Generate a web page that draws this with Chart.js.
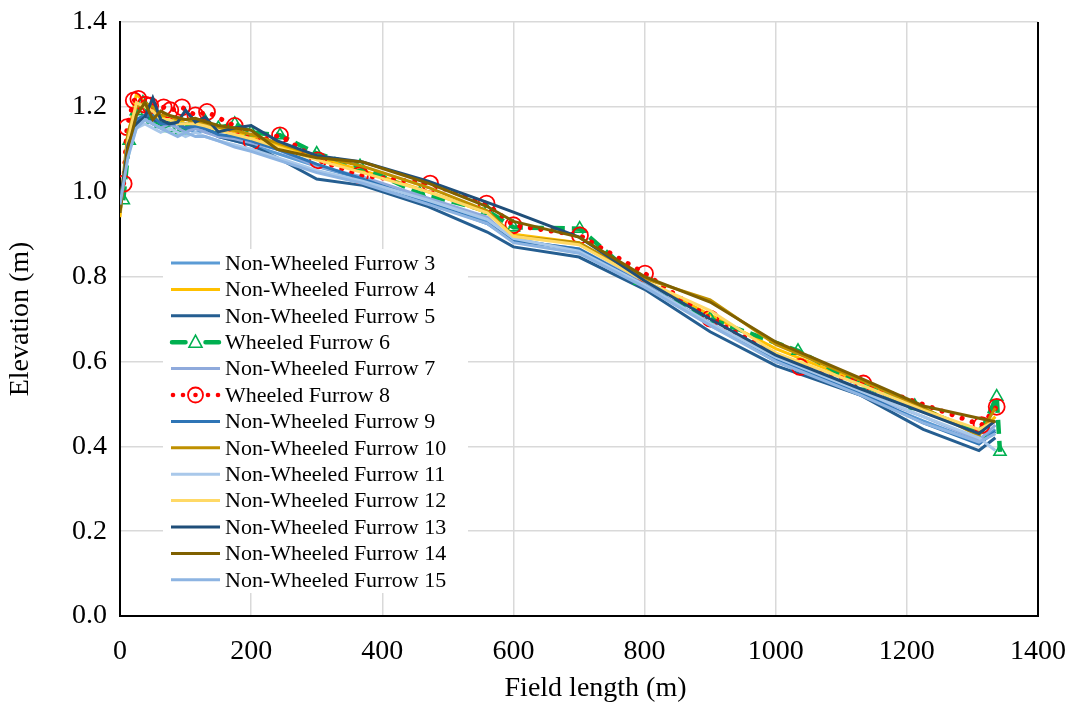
<!DOCTYPE html>
<html>
<head>
<meta charset="utf-8">
<title>Furrow elevation profiles</title>
<script src="https://cdn.jsdelivr.net/npm/chart.js@4.4.1/dist/chart.umd.min.js"></script>
<style>
  html, body { margin: 0; padding: 0; background: #ffffff; }
  #wrap { width: 1073px; height: 709px; }
</style>
</head>
<body>
<div id="wrap"><canvas id="chart" width="1073" height="709"></canvas></div>
<script>
// Survey stations along the field (m)
const stationsNW = [0, 12, 25, 38, 50, 62, 75, 88, 100, 115, 130, 150, 175, 200, 240, 300, 370, 470, 560, 600, 700, 800, 900, 1000, 1130, 1225, 1310, 1335];
const stationsW6 = [5, 14, 25, 35, 50, 62, 76, 94, 110, 130, 150, 175, 200, 244, 300, 366, 457, 560, 600, 701, 793, 900, 1034, 1130, 1212, 1312, 1337, 1342];
const stationsW8 = [5.6, 10.7, 21, 28, 38.6, 46, 66.6, 76.7, 94.5, 115, 132.7, 175, 201, 244, 302, 366, 473, 559, 600, 701.5, 800.7, 900, 1037, 1133.6, 1314, 1337];

// Elevations (m)
const furrow3  = [0.95, 1.10, 1.17, 1.18, 1.16, 1.15, 1.16, 1.15, 1.15, 1.14, 1.145, 1.13, 1.12, 1.11, 1.09, 1.06, 1.03, 0.98, 0.93, 0.89, 0.86, 0.78, 0.69, 0.60, 0.52, 0.46, 0.41, 0.44];
const furrow4  = [0.94, 1.13, 1.23, 1.21, 1.19, 1.18, 1.17, 1.17, 1.16, 1.16, 1.16, 1.15, 1.14, 1.13, 1.11, 1.08, 1.05, 1.00, 0.95, 0.90, 0.88, 0.79, 0.71, 0.63, 0.55, 0.49, 0.43, 0.47];
const furrow5  = [0.96, 1.09, 1.16, 1.18, 1.17, 1.16, 1.17, 1.16, 1.16, 1.15, 1.15, 1.13, 1.12, 1.11, 1.08, 1.03, 1.015, 0.965, 0.905, 0.87, 0.846, 0.77, 0.67, 0.59, 0.52, 0.44, 0.39, 0.42];
const furrow6  = [0.98, 1.12, 1.19, 1.21, 1.17, 1.16, 1.15, 1.145, 1.16, 1.165, 1.15, 1.16, 1.14, 1.133, 1.09, 1.06, 0.996, 0.955, 0.916, 0.913, 0.79, 0.70, 0.625, 0.545, 0.495, 0.43, 0.517, 0.387];
const furrow7  = [0.96, 1.10, 1.16, 1.17, 1.16, 1.15, 1.16, 1.15, 1.14, 1.15, 1.14, 1.13, 1.125, 1.115, 1.10, 1.06, 1.035, 0.985, 0.94, 0.885, 0.865, 0.785, 0.685, 0.605, 0.525, 0.47, 0.415, 0.45];
const furrow8  = [1.019, 1.152, 1.215, 1.219, 1.205, 1.203, 1.199, 1.192, 1.199, 1.18, 1.188, 1.155, 1.117, 1.133, 1.074, 1.039, 1.019, 0.972, 0.921, 0.897, 0.807, 0.701, 0.587, 0.548, 0.45, 0.493];
const furrow9  = [0.95, 1.11, 1.17, 1.18, 1.18, 1.16, 1.16, 1.16, 1.15, 1.155, 1.15, 1.135, 1.13, 1.12, 1.10, 1.065, 1.03, 0.975, 0.925, 0.885, 0.865, 0.78, 0.69, 0.605, 0.525, 0.455, 0.405, 0.435];
const furrow10 = [0.96, 1.14, 1.20, 1.21, 1.20, 1.18, 1.18, 1.17, 1.17, 1.165, 1.16, 1.15, 1.145, 1.135, 1.115, 1.085, 1.06, 1.01, 0.955, 0.895, 0.88, 0.795, 0.745, 0.64, 0.556, 0.49, 0.425, 0.49];
const furrow11 = [0.97, 1.09, 1.15, 1.16, 1.15, 1.14, 1.15, 1.14, 1.13, 1.14, 1.13, 1.12, 1.11, 1.10, 1.08, 1.05, 1.025, 0.98, 0.935, 0.89, 0.86, 0.78, 0.69, 0.61, 0.53, 0.47, 0.42, 0.39];
const furrow12 = [0.95, 1.12, 1.21, 1.20, 1.19, 1.17, 1.17, 1.16, 1.16, 1.16, 1.155, 1.145, 1.135, 1.125, 1.105, 1.075, 1.045, 1.00, 0.95, 0.895, 0.875, 0.79, 0.72, 0.62, 0.545, 0.485, 0.44, 0.46];
const furrow13 = [0.97, 1.11, 1.16, 1.176, 1.221, 1.17, 1.16, 1.164, 1.192, 1.164, 1.176, 1.141, 1.15, 1.156, 1.12, 1.085, 1.07, 1.025, 0.975, 0.952, 0.893, 0.79, 0.70, 0.615, 0.535, 0.48, 0.43, 0.46];
const furrow14 = [0.95, 1.10, 1.18, 1.21, 1.17, 1.19, 1.18, 1.175, 1.17, 1.173, 1.165, 1.156, 1.15, 1.145, 1.10, 1.08, 1.07, 1.02, 0.965, 0.93, 0.893, 0.80, 0.74, 0.646, 0.56, 0.495, 0.466, 0.458];
const furrow15 = [0.97, 1.08, 1.15, 1.17, 1.16, 1.15, 1.14, 1.13, 1.14, 1.13, 1.13, 1.12, 1.105, 1.095, 1.075, 1.045, 1.02, 0.97, 0.925, 0.88, 0.855, 0.775, 0.685, 0.60, 0.52, 0.455, 0.41, 0.43];

const xTicks = [0, 200, 400, 600, 800, 1000, 1200, 1400];
const yTicks = [0.0, 0.2, 0.4, 0.6, 0.8, 1.0, 1.2, 1.4];
const xTitle = 'Field length (m)';

const SERIF = "'Liberation Serif', 'Times New Roman', serif";

function pts(xs, ys) { return ys.map((y, i) => ({ x: xs[i], y: y })); }

function plain(label, xs, ys, color) {
  return { label, data: pts(xs, ys), borderColor: color, backgroundColor: color,
           borderWidth: 3, pointRadius: 0, tension: 0, kind: 'line' };
}

const datasets = [
  plain('Non-Wheeled Furrow 3', stationsNW, furrow3, '#5B9BD5'),
  plain('Non-Wheeled Furrow 4', stationsNW, furrow4, '#FFC000'),
  plain('Non-Wheeled Furrow 5', stationsNW, furrow5, '#255E91'),
  { label: 'Wheeled Furrow 6', data: pts(stationsW6, furrow6), borderColor: '#00B050',
    backgroundColor: 'rgba(0,0,0,0)', borderWidth: 4.5, borderDash: [14, 7], tension: 0,
    pointStyle: 'triangle', pointRadius: 7, pointBorderWidth: 1.6,
    pointBorderColor: '#00B050', pointBackgroundColor: 'rgba(0,0,0,0)', kind: 'triangle' },
  plain('Non-Wheeled Furrow 7', stationsNW, furrow7, '#8FAADC'),
  { label: 'Wheeled Furrow 8', data: pts(stationsW8, furrow8), borderColor: '#FF0000',
    backgroundColor: 'rgba(0,0,0,0)', borderWidth: 5, borderDash: [0.1, 10.5],
    borderCapStyle: 'round', tension: 0,
    pointStyle: 'circle', pointRadius: 8, pointBorderWidth: 1.8,
    pointBorderColor: '#FF0000', pointBackgroundColor: 'rgba(0,0,0,0)', kind: 'circle' },
  plain('Non-Wheeled Furrow 9', stationsNW, furrow9, '#2E75B6'),
  plain('Non-Wheeled Furrow 10', stationsNW, furrow10, '#BF9000'),
  plain('Non-Wheeled Furrow 11', stationsNW, furrow11, '#A9C8EA'),
  plain('Non-Wheeled Furrow 12', stationsNW, furrow12, '#FFD966'),
  plain('Non-Wheeled Furrow 13', stationsNW, furrow13, '#1F4E79'),
  plain('Non-Wheeled Furrow 14', stationsNW, furrow14, '#7F6000'),
  plain('Non-Wheeled Furrow 15', stationsNW, furrow15, '#8DB4E2')
];
// later series are painted over earlier ones
datasets.forEach((d, i) => { d.order = datasets.length - i; });

// Legend box inside the plot, the right-hand frame line and the x-axis title
const furrowLegend = {
  id: 'furrowLegend',
  afterDatasetsDraw(chart) {
    const ctx = chart.ctx;
    const box = { x: 163, y: 249, w: 305, h: 344 };
    ctx.save();
    ctx.fillStyle = '#ffffff';
    ctx.fillRect(box.x, box.y, box.w, box.h);
    const x0 = 171, x1 = 220, tx = 225, top = 263, step = 26.4;
    ctx.font = '22px ' + SERIF;
    ctx.textBaseline = 'middle';
    ctx.textAlign = 'left';
    chart.data.datasets.forEach((d, i) => {
      const cy = top + i * step;
      const mid = (x0 + x1) / 2;
      ctx.strokeStyle = d.borderColor;
      if (d.kind === 'triangle') {
        ctx.lineWidth = 4.5;
        ctx.lineCap = 'round';
        ctx.beginPath();
        ctx.moveTo(x0 + 1, cy); ctx.lineTo(mid - 10, cy);
        ctx.moveTo(mid + 10, cy); ctx.lineTo(x1 - 1, cy);
        ctx.stroke();
        ctx.lineWidth = 1.6;
        ctx.lineCap = 'butt';
        ctx.beginPath();
        ctx.moveTo(mid, cy - 7); ctx.lineTo(mid + 6.5, cy + 5); ctx.lineTo(mid - 6.5, cy + 5);
        ctx.closePath();
        ctx.stroke();
      } else if (d.kind === 'circle') {
        ctx.fillStyle = d.borderColor;
        [x0 + 2, x0 + 12, mid, x1 - 12, x1 - 2].forEach(px => {
          ctx.beginPath(); ctx.arc(px, cy, 2.3, 0, Math.PI * 2); ctx.fill();
        });
        ctx.lineWidth = 1.8;
        ctx.beginPath(); ctx.arc(mid, cy, 7.5, 0, Math.PI * 2); ctx.stroke();
      } else {
        ctx.lineWidth = 3;
        ctx.lineCap = 'butt';
        ctx.beginPath(); ctx.moveTo(x0, cy); ctx.lineTo(x1, cy); ctx.stroke();
      }
      ctx.fillStyle = '#000000';
      ctx.fillText(d.label, tx, cy + 1);
    });
    const a = chart.chartArea;
    ctx.strokeStyle = '#000000';
    ctx.lineWidth = 2;
    ctx.beginPath(); ctx.moveTo(a.right, a.top); ctx.lineTo(a.right, a.bottom + 1); ctx.stroke();

    // x-axis title, set a little right of the plot centre
    ctx.font = '28px ' + SERIF;
    ctx.fillStyle = '#000000';
    ctx.textAlign = 'center';
    ctx.textBaseline = 'middle';
    ctx.fillText(xTitle, a.left + (a.right - a.left) * 0.518, chart.height - 20);
    ctx.restore();
  }
};

new Chart(document.getElementById('chart'), {
  type: 'line',
  data: { datasets },
  options: {
    responsive: false,
    animation: false,
    layout: { padding: { top: 22, right: 35, left: 0, bottom: 0 } },
    plugins: { legend: { display: false }, tooltip: { enabled: false } },
    scales: {
      x: {
        type: 'linear', min: 0, max: 1400,
        afterBuildTicks: s => { s.ticks = xTicks.map(v => ({ value: v })); },
        afterFit: s => { s.height = 93; s.paddingLeft = 0; s.paddingRight = 0; },
        ticks: { color: '#000', font: { family: SERIF, size: 28 }, padding: 19, maxRotation: 0,
                 callback: v => String(v) },
        grid: { color: '#d9d9d9', lineWidth: 1.5, drawTicks: false },
        border: { color: '#000', width: 2 },
        title: { display: false }
      },
      y: {
        min: 0, max: 1.4,
        afterBuildTicks: s => { s.ticks = yTicks.map(v => ({ value: v })); },
        afterFit: s => { s.width = 120; s.paddingTop = 0; s.paddingBottom = 0; },
        ticks: { color: '#000', font: { family: SERIF, size: 28 }, padding: 13,
                 callback: v => Number(v).toFixed(1) },
        grid: { color: '#d9d9d9', lineWidth: 1.5, drawTicks: false },
        border: { color: '#000', width: 2 },
        title: { display: true, text: 'Elevation (m)', color: '#000',
                 font: { family: SERIF, size: 28 }, padding: { top: 4, bottom: 0 } }
      }
    }
  },
  plugins: [furrowLegend]
});
</script>
</body>
</html>
